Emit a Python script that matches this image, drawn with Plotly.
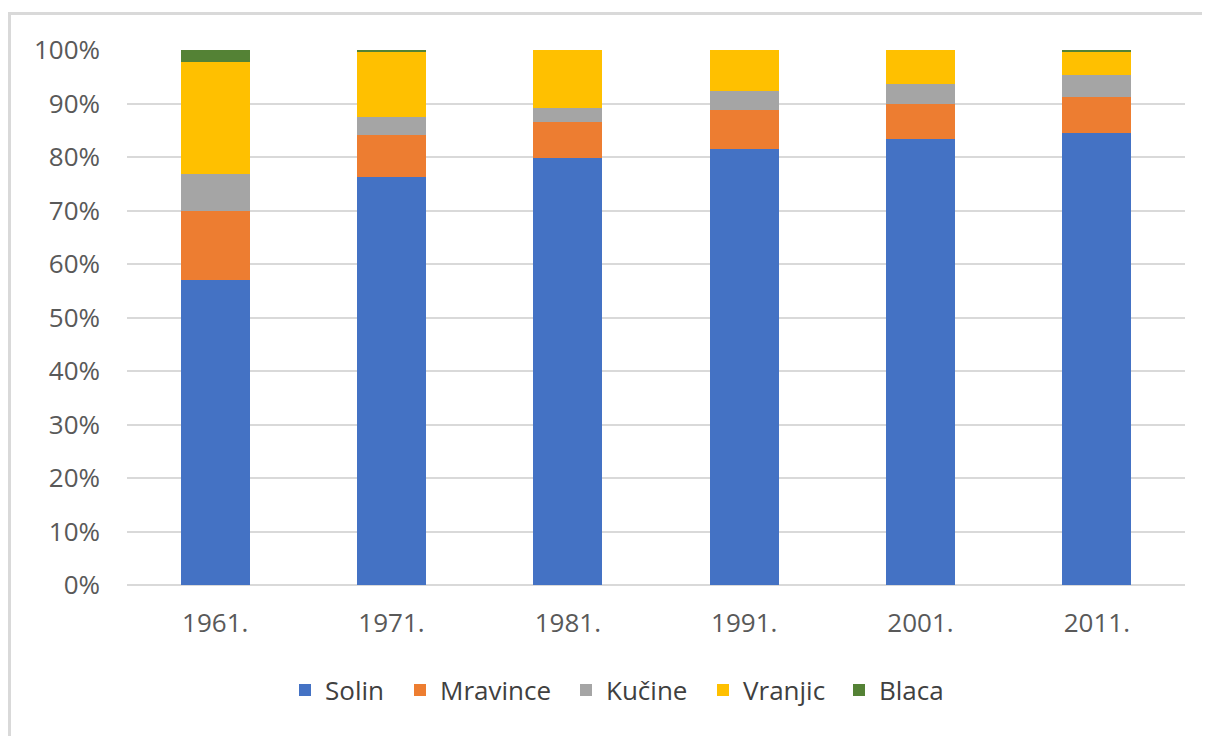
import plotly.graph_objects as go

years = ["1961.", "1971.", "1981.", "1991.", "2001.", "2011."]
solin = [57.0, 76.3, 79.9, 81.5, 83.3, 84.5]
mravince = [13.0, 7.8, 6.7, 7.2, 6.7, 6.7]
kucine = [6.9, 3.3, 2.6, 3.6, 3.6, 4.1]
vranjic = [20.9, 12.2, 10.8, 7.7, 6.4, 4.3]
blaca = [2.2, 0.4, 0.0, 0.0, 0.0, 0.4]

series = [
    ("Solin", solin, "#4472C4"),
    ("Mravince", mravince, "#ED7D31"),
    ("Kučine", kucine, "#A5A5A5"),
    ("Vranjic", vranjic, "#FFC000"),
    ("Blaca", blaca, "#548235"),
]
# screen x where each legend text starts in the reference
legend_text_x = [322, 437, 603, 740, 876]

FONT = "Open Sans"
OFF = 8  # page body margin
W, H = 1202, 728
# plot area in screen coords: x 127..1185, y 50..585
L = 127 - OFF
T = 50 - OFF
R = W - (1185 - OFF)
B = H - (585 - OFF)
pw, ph = W - L - R, H - T - B

def px_x(p):  # screen px -> paper
    return (p - OFF - L) / pw

def px_y(p):
    return (H - B - (p - OFF)) / ph

fig = go.Figure()
legend_defs = {}
for i, (name, vals, col) in enumerate(series):
    lg = "legend" if i == 0 else f"legend{i+1}"
    fig.add_trace(go.Bar(name=name, x=years, y=vals, legend=lg,
                         marker=dict(color=col, line=dict(width=0))))
    legend_defs[lg] = dict(orientation="h", x=px_x(legend_text_x[i] - 37), xanchor="left",
                           y=px_y(690), yanchor="middle", bgcolor="rgba(0,0,0,0)",
                           font=dict(family=FONT, size=26, color="#404040"), itemwidth=30)

fig.update_layout(
    width=W, height=H,
    barmode="stack", barnorm="percent", bargap=0.61,
    margin=dict(l=L, r=R, t=T, b=B),
    paper_bgcolor="white", plot_bgcolor="white",
    font=dict(family=FONT, size=26, color="#595959"),
    showlegend=True,
    xaxis=dict(showgrid=False, showline=False, ticks="", ticklabelstandoff=20,
               tickfont=dict(size=26, color="#595959")),
    yaxis=dict(range=[0, 100], dtick=10, ticksuffix="%", showgrid=True, gridcolor="#D9D9D9",
               gridwidth=2, zeroline=True, zerolinecolor="#D9D9D9", zerolinewidth=2,
               showline=False, ticks="", ticklabelstandoff=26,
               tickfont=dict(size=26, color="#595959")),
    shapes=[dict(type="rect", xref="paper", yref="paper",
                 x0=px_x(9.5), x1=px_x(1240), y0=px_y(770), y1=px_y(13.5),
                 line=dict(color="#D9D9D9", width=3), fillcolor="rgba(0,0,0,0)", layer="below")],
    **legend_defs,
)

fig.write_html("out.html")
